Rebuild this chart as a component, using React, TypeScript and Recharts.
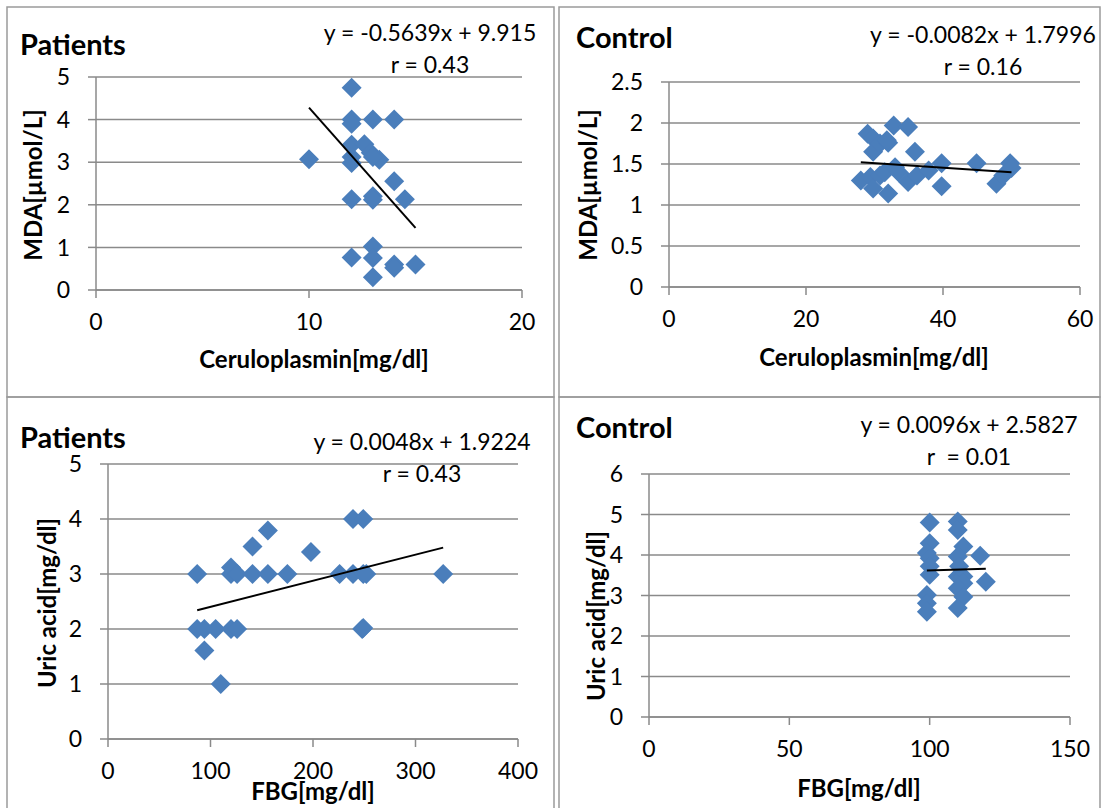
import { ScatterChart, Scatter, XAxis, YAxis, CartesianGrid } from "recharts";

const FONT = "Lato, 'Open Sans', sans-serif";
const GRID = "#8a8a8a";
const BORDER = "#9a9a9a";
const MARKER = "#4a7ebb";

// Patients: ceruloplasmin vs MDA
const patCpX = [12, 12, 12, 13, 14, 10, 12, 12.6, 12.9, 13.3, 12, 12, 13, 14, 12, 13, 13, 14.5, 13, 12, 13, 14, 14, 15, 13];
const patCpMda = [4.75, 4.0, 3.9, 4.0, 4.0, 3.07, 3.41, 3.42, 3.22, 3.06, 3.12, 2.98, 3.12, 2.55, 2.13, 2.2, 2.12, 2.13, 1.02, 0.76, 0.75, 0.6, 0.52, 0.6, 0.3];
const patCpTrendX = [10, 15];
const patCpTrendY = [4.28, 1.46];

// Control: ceruloplasmin vs MDA
const conCpX = [28, 29, 29.8, 29.8, 30.8, 32, 31.8, 32.8, 34.9, 35.9, 29.4, 29.8, 30.8, 31.5, 32, 33, 33.5, 34.9, 36.2, 37.9, 39.8, 39.8, 44.9, 47.8, 48.8, 49.8, 50];
const conCpMda = [1.3, 1.87, 1.81, 1.65, 1.75, 1.76, 1.79, 1.97, 1.95, 1.65, 1.34, 1.2, 1.36, 1.4, 1.14, 1.46, 1.4, 1.28, 1.36, 1.42, 1.51, 1.23, 1.51, 1.26, 1.36, 1.51, 1.45];
const conCpTrendX = [28, 50];
const conCpTrendY = [1.52, 1.4];

// Patients: FBG vs uric acid
const patFbgX = [87, 87, 94, 94, 105, 110, 120, 120, 120, 126, 126, 141, 141, 156, 156, 175, 198, 226, 239, 239, 249, 249, 252, 248, 249, 327];
const patFbgUa = [3, 2, 2, 1.61, 2, 1, 3.12, 3, 2, 2, 3, 3.5, 3, 3.79, 3, 3, 3.4, 3, 3, 4, 4, 3, 3, 2, 2.02, 3];
const patFbgTrendX = [87, 327];
const patFbgTrendY = [2.34, 3.48];

// Control: FBG vs uric acid
const conFbgX = [100, 100, 99, 100, 100, 100, 99, 99, 99, 110, 110, 112, 110, 110, 112, 110.5, 112, 110, 112, 110, 118, 120];
const conFbgUa = [4.8, 4.29, 4.05, 3.92, 3.72, 3.51, 3.01, 2.81, 2.6, 4.83, 4.62, 4.21, 3.96, 3.47, 3.47, 3.72, 3.3, 3.18, 2.97, 2.69, 3.98, 3.34];
const conFbgTrendX = [99, 120];
const conFbgTrendY = [3.62, 3.66];

const zip = (xs: number[], ys: number[]) => xs.map((x, i) => ({ x, y: ys[i] }));

const Diamond = (p: any) => {
  const { cx, cy } = p;
  const r = 10;
  return <polygon points={`${cx},${cy - r} ${cx + r},${cy} ${cx},${cy + r} ${cx - r},${cy}`} fill={MARKER} />;
};

type Box = { x: number; y: number; w: number; h: number };
type Plot = { l: number; r: number; t: number; b: number };

function Panel(props: {
  box: Box;
  plot: Plot;
  xDomain: number[];
  xTicks: number[];
  yDomain: number[];
  yTicks: number[];
  points: { x: number; y: number }[];
  trend: { x: number; y: number }[];
}) {
  const { box, plot } = props;
  const xAxisH = 40;
  const margin = {
    top: plot.t - box.y,
    right: box.x + box.w - plot.r,
    bottom: box.y + box.h - plot.b - xAxisH,
    left: 0,
  };
  const tickStyle = { fill: "#000", fontSize: 23, fontFamily: FONT };
  return (
    <div style={{ position: "absolute", left: box.x, top: box.y }}>
      <ScatterChart width={box.w} height={box.h} margin={margin}>
        <CartesianGrid vertical={false} stroke={GRID} strokeWidth={1.5} />
        <XAxis
          type="number"
          dataKey="x"
          domain={props.xDomain}
          ticks={props.xTicks}
          interval={0}
          height={xAxisH}
          tickSize={8}
          tickMargin={16}
          axisLine={{ stroke: GRID, strokeWidth: 1.5 }}
          tickLine={{ stroke: GRID, strokeWidth: 1.5 }}
          tick={tickStyle}
        />
        <YAxis
          type="number"
          dataKey="y"
          domain={props.yDomain}
          ticks={props.yTicks}
          interval={0}
          width={plot.l - box.x}
          tickSize={8}
          tickMargin={18}
          axisLine={{ stroke: GRID, strokeWidth: 1.5 }}
          tickLine={{ stroke: GRID, strokeWidth: 1.5 }}
          tick={tickStyle}
        />
        <Scatter data={props.points} shape={Diamond} fill={MARKER} isAnimationActive={false} />
        <Scatter
          data={props.trend}
          line={{ stroke: "#000", strokeWidth: 2 }}
          shape={() => <g />}
          isAnimationActive={false}
        />
      </ScatterChart>
    </div>
  );
}

const boxes: Box[] = [
  { x: 7, y: 7, w: 547, h: 390 },
  { x: 559, y: 7, w: 541, h: 390 },
  { x: 7, y: 397, w: 547, h: 420 },
  { x: 559, y: 397, w: 541, h: 420 },
];

function Texts() {
  const reg = { fontFamily: FONT, fontSize: 23, fill: "#000" };
  const bold = { fontFamily: FONT, fontSize: 24, fontWeight: 700, fill: "#000" };
  const head = { fontFamily: FONT, fontSize: 29, fontWeight: 700, fill: "#000" };
  const yTitle = (x: number, y: number, s: string) => (
    <text x={x} y={y} textAnchor="middle" transform={`rotate(-90 ${x} ${y})`} {...bold}>
      {s}
    </text>
  );
  return (
    <svg width={1102} height={808} style={{ position: "absolute", left: 0, top: 0, pointerEvents: "none" }}>
      {boxes.map((b, i) => (
        <rect key={i} x={b.x} y={b.y} width={b.w} height={b.h} fill="none" stroke={BORDER} strokeWidth={1.5} />
      ))}

      <text x={20} y={55} {...head}>Patients</text>
      <text x={430} y={41} textAnchor="middle" {...reg}>y = -0.5639x + 9.915</text>
      <text x={430} y={73} textAnchor="middle" {...reg}>r = 0.43</text>
      <text x={314} y={368} textAnchor="middle" {...bold}>Ceruloplasmin[mg/dl]</text>
      {yTitle(42, 185, "MDA[µmol/L]")}

      <text x={576} y={48} {...head}>Control</text>
      <text x={983} y={43} textAnchor="middle" {...reg}>y = -0.0082x + 1.7996</text>
      <text x={983} y={75} textAnchor="middle" {...reg}>r = 0.16</text>
      <text x={874} y={366} textAnchor="middle" {...bold}>Ceruloplasmin[mg/dl]</text>
      {yTitle(597, 185, "MDA[µmol/L]")}

      <text x={20} y={448} {...head}>Patients</text>
      <text x={422} y={450} textAnchor="middle" {...reg}>y = 0.0048x + 1.9224</text>
      <text x={422} y={482} textAnchor="middle" {...reg}>r = 0.43</text>
      <text x={313} y={800} textAnchor="middle" {...bold}>FBG[mg/dl]</text>
      {yTitle(56, 603, "Uric acid[mg/dl]")}

      <text x={576} y={438} {...head}>Control</text>
      <text x={969} y={433} textAnchor="middle" {...reg}>y = 0.0096x + 2.5827</text>
      <text x={969} y={465} textAnchor="middle" {...reg}>{"r\u00a0 = 0.01"}</text>
      <text x={859} y={797} textAnchor="middle" {...bold}>FBG[mg/dl]</text>
      {yTitle(605, 616, "Uric acid[mg/dl]")}
    </svg>
  );
}

export default function App() {
  return (
    <div style={{ position: "absolute", left: 0, top: 0, width: 1102, height: 808, overflow: "hidden", background: "#fff" }}>
      <Panel
        box={boxes[0]}
        plot={{ l: 96, r: 522, t: 77, b: 290 }}
        xDomain={[0, 20]}
        xTicks={[0, 10, 20]}
        yDomain={[0, 5]}
        yTicks={[0, 1, 2, 3, 4, 5]}
        points={zip(patCpX, patCpMda)}
        trend={zip(patCpTrendX, patCpTrendY)}
      />
      <Panel
        box={boxes[1]}
        plot={{ l: 669, r: 1080, t: 82, b: 287 }}
        xDomain={[0, 60]}
        xTicks={[0, 20, 40, 60]}
        yDomain={[0, 2.5]}
        yTicks={[0, 0.5, 1, 1.5, 2, 2.5]}
        points={zip(conCpX, conCpMda)}
        trend={zip(conCpTrendX, conCpTrendY)}
      />
      <Panel
        box={boxes[2]}
        plot={{ l: 108, r: 518, t: 464, b: 739 }}
        xDomain={[0, 400]}
        xTicks={[0, 100, 200, 300, 400]}
        yDomain={[0, 5]}
        yTicks={[0, 1, 2, 3, 4, 5]}
        points={zip(patFbgX, patFbgUa)}
        trend={zip(patFbgTrendX, patFbgTrendY)}
      />
      <Panel
        box={boxes[3]}
        plot={{ l: 649, r: 1070, t: 474, b: 717 }}
        xDomain={[0, 150]}
        xTicks={[0, 50, 100, 150]}
        yDomain={[0, 6]}
        yTicks={[0, 1, 2, 3, 4, 5, 6]}
        points={zip(conFbgX, conFbgUa)}
        trend={zip(conFbgTrendX, conFbgTrendY)}
      />
      <Texts />
    </div>
  );
}
